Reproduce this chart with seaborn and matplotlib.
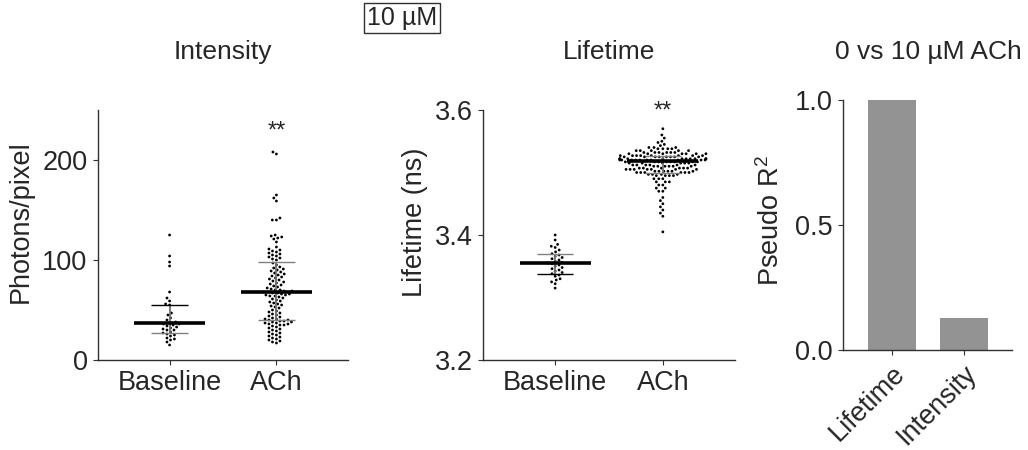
import numpy as np
import pandas as pd
import matplotlib
matplotlib.use("Agg")
import matplotlib.pyplot as plt
import seaborn as sns

# ---------------- data ----------------
groups = ["Baseline", "ACh"]

intensity_baseline = [125, 104, 98, 94, 68, 62, 59, 56, 55, 47, 45, 42, 40, 38, 37, 36, 36,
                      35, 34, 33, 32, 31, 30, 30, 28, 27, 26, 25, 24, 22, 21, 20, 18, 15]
intensity_ach = [208, 206, 165, 162, 159, 142, 140, 140, 125, 124, 123, 122, 121, 118,
                 113, 111, 110, 109, 108, 107, 106, 105, 104, 103, 102, 101, 100,
                 97, 95, 93, 92, 91, 90, 89, 88, 87, 86, 85, 84, 83, 82, 81, 80,
                 79, 78, 77, 76, 75, 74, 73, 72, 71, 70, 70, 69, 69, 68, 68, 67, 67, 66, 66,
                 65, 65, 64, 64, 63, 62, 61, 60, 59, 58, 57, 56, 55, 54, 53, 52,
                 50, 49, 48, 47, 46, 45, 44, 43, 42, 41, 41, 40, 40, 39, 39, 38, 38, 37, 37,
                 36, 36, 35, 35, 34, 33, 32, 31, 30, 29, 28, 27, 26, 25, 24, 23, 22, 21, 20,
                 19, 18, 17]

lifetime_baseline = [3.400, 3.392, 3.385, 3.382, 3.380, 3.376, 3.373, 3.370, 3.368, 3.366,
                     3.364, 3.362, 3.360, 3.358, 3.356, 3.355, 3.354, 3.352, 3.350, 3.348,
                     3.346, 3.344, 3.342, 3.340, 3.338, 3.336, 3.334, 3.330, 3.328, 3.325,
                     3.322, 3.315]
lifetime_ach = ([3.570, 3.560, 3.555, 3.550, 3.548, 3.545, 3.543]
                + [3.540] * 3 + [3.538] * 4 + [3.535] * 5 + [3.532] * 6 + [3.530] * 7
                + [3.527] * 8 + [3.525] * 8 + [3.522] * 10 + [3.520] * 10 + [3.517] * 8
                + [3.515] * 6 + [3.512] * 6 + [3.510] * 6 + [3.507] * 6 + [3.505] * 7
                + [3.502] * 6 + [3.500] * 6 + [3.497] * 4 + [3.495] * 4 + [3.490] * 3
                + [3.485] * 3 + [3.480] * 2 + [3.475] * 2 + [3.470] * 2
                + [3.460, 3.455, 3.450, 3.445, 3.440, 3.435, 3.430, 3.405])

# summary lines (median, lower quartile, upper quartile) per group
intensity_median = [37, 68]
intensity_q1 = [27, 40]
intensity_q3 = [55, 98]
lifetime_median = [3.355, 3.518]
lifetime_q1 = [3.337, 3.500]
lifetime_q3 = [3.370, 3.527]

r2_labels = ["Lifetime", "Intensity"]
r2_values = [1.0, 0.128]

# ---------------- style ----------------
sns.set_style("ticks")
plt.rcParams["font.family"] = ["Liberation Sans", "DejaVu Sans"]
plt.rcParams["mathtext.fontset"] = "custom"
plt.rcParams["mathtext.rm"] = "Liberation Sans"
plt.rcParams["mathtext.it"] = "Liberation Sans:italic"

FS = 19.5
W, H = 1028, 450
fig = plt.figure(figsize=(W / 100, H / 100), dpi=100)


def px_axes(left, right, top, bottom):
    return fig.add_axes([left / W, 1 - bottom / H, (right - left) / W, (bottom - top) / H])


def style_axes(ax):
    for s in ["top", "right"]:
        ax.spines[s].set_visible(False)
    for s in ["left", "bottom"]:
        ax.spines[s].set_color("#303030")
        ax.spines[s].set_linewidth(1.0)
    ax.tick_params(axis="both", direction="out", length=3.5, width=0.8,
                   color="#303030", labelsize=FS, pad=4)


def swarm_panel(ax, base, ach, med, q1, q3, upper_cols, lower_cols):
    df = pd.DataFrame({
        "group": [groups[0]] * len(base) + [groups[1]] * len(ach),
        "value": list(base) + list(ach),
    })
    sns.swarmplot(data=df, x="group", y="value", order=groups, ax=ax,
                  color="black", size=2.0, linewidth=0.8, edgecolor="none",
                  zorder=1, warn_thresh=1)
    for i in range(len(groups)):
        ax.vlines(i, q1[i], q3[i], color="#707070", lw=1.3, zorder=3)
        ax.hlines(q3[i], i - 0.17, i + 0.17, color=upper_cols[i], lw=1.0, zorder=3)
        ax.hlines(q1[i], i - 0.17, i + 0.17, color=lower_cols[i], lw=1.0, zorder=3)
        ax.hlines(med[i], i - 0.33, i + 0.33, color="black", lw=2.6, zorder=4)
    ax.set_xlim(-0.67, 1.67)
    ax.set_xlabel("")
    style_axes(ax)


# Panel 1: Intensity
ax1 = px_axes(98, 348, 110, 360)
swarm_panel(ax1, intensity_baseline, intensity_ach, intensity_median, intensity_q1,
            intensity_q3, ["black", "#808080"], ["#808080", "#808080"])
ax1.set_ylim(0, 250)
ax1.set_yticks([0, 100, 200])
ax1.set_ylabel("Photons/pixel", fontsize=FS)
ax1.yaxis.set_label_coords(-0.256, 0.552)
ax1.text(1, 228, "**", ha="center", va="center", fontsize=17)

# Panel 2: Lifetime
ax2 = px_axes(483, 735, 110, 360)
swarm_panel(ax2, lifetime_baseline, lifetime_ach, lifetime_median, lifetime_q1,
            lifetime_q3, ["#808080", "#808080"], ["black", "#808080"])
ax2.set_ylim(3.2, 3.6)
ax2.set_yticks([3.2, 3.4, 3.6])
ax2.set_yticklabels(["3.2", "3.4", "3.6"])
ax2.set_ylabel("Lifetime (ns)", fontsize=FS)
ax2.yaxis.set_label_coords(-0.218, 0.552)
ax2.text(1, 3.597, "**", ha="center", va="center", fontsize=17)

# Panel 3: Pseudo R2
ax3 = px_axes(843, 1012, 100, 350)
sns.barplot(x=r2_labels, y=r2_values, ax=ax3, color="#939393", width=0.67,
            saturation=1, edgecolor="none")
ax3.set_xlim(-0.68, 1.67)
ax3.set_ylim(0, 1.0)
ax3.set_yticks([0, 0.5, 1.0])
ax3.set_yticklabels(["0.0", "0.5", "1.0"])
style_axes(ax3)
ax3.set_ylabel("Pseudo R$^2$", fontsize=FS)
ax3.yaxis.set_label_coords(-0.343, 0.52)
for lab in ax3.get_xticklabels():
    lab.set_rotation(45)
    lab.set_ha("right")
    lab.set_rotation_mode("anchor")

# Titles
fig.text(223 / W, 1 - 52 / H, "Intensity", ha="center", va="center", fontsize=19)
fig.text(609 / W, 1 - 52 / H, "Lifetime", ha="center", va="center", fontsize=19)
fig.text(928 / W, 1 - 52 / H, "0 vs 10 µM ACh", ha="center", va="center", fontsize=19)
fig.text(402 / W, 1 - 18 / H, "10 µM", ha="center", va="center", fontsize=18,
         bbox=dict(boxstyle="square,pad=0.12", facecolor="white", edgecolor="#303030", lw=1.0))

fig.savefig("out.png", dpi=100)
